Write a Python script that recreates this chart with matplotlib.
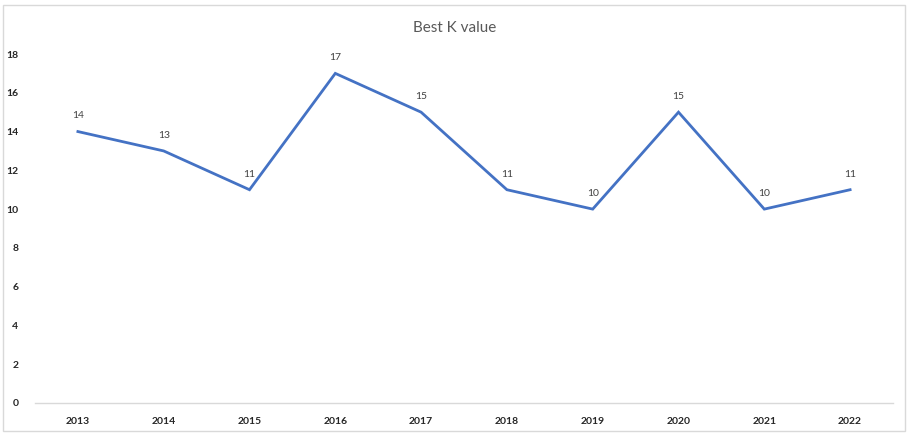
import matplotlib
matplotlib.use("Agg")
import matplotlib.pyplot as plt
from matplotlib.patches import Rectangle

years = ["2013", "2014", "2015", "2016", "2017", "2018", "2019", "2020", "2021", "2022"]
best_k = [14, 13, 11, 17, 15, 11, 10, 15, 10, 11]
y_ticks = [0, 2, 4, 6, 8, 10, 12, 14, 16, 18]

plt.rcParams['font.family'] = ['Lato', 'DejaVu Sans']

W, H = 908, 433
fig = plt.figure(figsize=(W / 100, H / 100), dpi=100)
ax = fig.add_axes([35 / W, (H - 403) / H, (893 - 35) / W, (403 - 54) / H])

x = list(range(len(years)))
ax.plot(x, best_k, color="#4472C4", linewidth=2.0, solid_joinstyle="miter")
for xi, v in zip(x, best_k):
    ax.annotate(str(v), (xi, v), xytext=(0, 8), textcoords="offset points",
                ha="center", va="bottom", fontsize=7.5, color="#404040")

ax.set_xlim(-0.5, len(years) - 0.5)
ax.set_ylim(0, 18)
ax.set_xticks(x)
ax.set_xticklabels(years, fontsize=7.5, fontweight="bold", color="#262626")
ax.set_yticks(y_ticks)
ax.set_yticklabels([str(t) for t in y_ticks], fontsize=7.5, fontweight="bold", color="#262626")
ax.tick_params(axis="both", length=0)
ax.tick_params(axis="x", pad=10)
ax.tick_params(axis="y", pad=12)
for s in ["top", "right", "left"]:
    ax.spines[s].set_visible(False)
ax.spines["bottom"].set_color("#D9D9D9")
ax.spines["bottom"].set_linewidth(1.0)

fig.text(455 / W, 1 - 28 / H, "Best K value", ha="center", va="center",
         fontsize=11, color="#595959")

fig.patches.append(Rectangle((3 / W, 2 / H), (905 - 3) / W, (428 - 2) / H,
                             transform=fig.transFigure, fill=False,
                             edgecolor="#D9D9D9", linewidth=1.0))

fig.savefig("out.png", dpi=100)
